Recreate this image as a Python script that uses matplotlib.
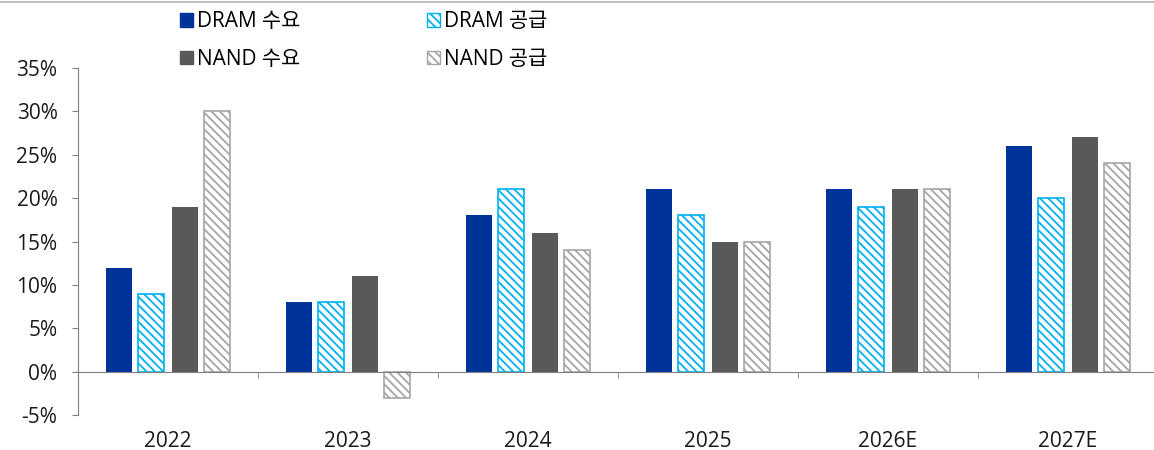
import matplotlib
matplotlib.use("Agg")
import matplotlib.pyplot as plt
import numpy as np
from matplotlib.lines import Line2D
from matplotlib.patches import Patch
from matplotlib.ticker import FuncFormatter

plt.rcParams['font.family'] = ['Open Sans', 'Noto Sans CJK KR', 'DejaVu Sans']
plt.rcParams['hatch.linewidth'] = 1.3

categories = ["2022", "2023", "2024", "2025", "2026E", "2027E"]
series_names = ["DRAM 수요", "DRAM 공급", "NAND 수요", "NAND 공급"]
dram_demand = [12, 8, 18, 21, 21, 26]
dram_supply = [9, 8, 21, 18, 19, 20]
nand_demand = [19, 11, 16, 15, 21, 27]
nand_supply = [30, -3, 14, 15, 21, 24]
yticks = [-5, 0, 5, 10, 15, 20, 25, 30, 35]

navy = "#003399"
lblue = "#00B0F0"
dgray = "#595959"
lgray = "#A6A6A6"
FS = 15
HATCH = "\\\\\\\\"

fig = plt.figure(figsize=(11.54, 4.5), dpi=100)
ax = fig.add_axes([78/1154, 35/450, (1158-78)/1154, (415-68)/450])

x = np.arange(len(categories))
w = 0.145
offs = [-0.272, -0.094, 0.092, 0.272]

ax.bar(x + offs[0], dram_demand, w, color=navy, label=series_names[0], zorder=2)
ax.bar(x + offs[1], dram_supply, w, facecolor="white", edgecolor=lblue, hatch=HATCH, linewidth=1.2, label=series_names[1], zorder=2)
ax.bar(x + offs[2], nand_demand, w, color=dgray, label=series_names[2], zorder=2)
ax.bar(x + offs[3], nand_supply, w, facecolor="white", edgecolor=lgray, hatch=HATCH, linewidth=1.2, label=series_names[3], zorder=2)

ax.set_xlim(-0.5, 5.5)
ax.set_ylim(-5, 35)
ax.set_yticks(yticks)
ax.yaxis.set_major_formatter(FuncFormatter(lambda v, p: f"{int(v)}%"))

for s in ["top", "right"]:
    ax.spines[s].set_visible(False)
ax.spines["left"].set_color("#808080")
ax.spines["bottom"].set_color("#808080")
ax.spines["bottom"].set_position(("data", 0))
ax.spines["bottom"].set_zorder(3)

ax.set_xticks(x)
ax.set_xticklabels(categories)
ax.set_xticks(np.arange(0.5, 5.5, 1.0), minor=True)
ax.tick_params(axis="x", which="major", length=0, pad=42.5, labelsize=FS, colors="#1a1a1a")
ax.tick_params(axis="x", which="minor", length=4.3, color="#808080", direction="out")
ax.tick_params(axis="y", length=4.3, color="#808080", labelsize=FS, labelcolor="#1a1a1a", pad=10.5)

handles = [Patch(facecolor=navy, edgecolor=navy),
           Patch(facecolor=dgray, edgecolor=dgray),
           Patch(facecolor="white", edgecolor=lblue, hatch=HATCH),
           Patch(facecolor="white", edgecolor=lgray, hatch=HATCH)]
labels = [series_names[0], series_names[2], series_names[1], series_names[3]]
fig.legend(handles, labels, ncol=2, loc="upper left", bbox_to_anchor=(172/1154, 1 - 3/450),
           frameon=False, fontsize=FS, handlelength=0.6, handleheight=0.6, handletextpad=0.2,
           columnspacing=6.1, labelspacing=0.78, borderaxespad=0)

fig.add_artist(Line2D([0, 1], [1 - 2/450, 1 - 2/450], color="#C0C0C0", linewidth=1.5, transform=fig.transFigure))

fig.savefig("out.png", dpi=100)
